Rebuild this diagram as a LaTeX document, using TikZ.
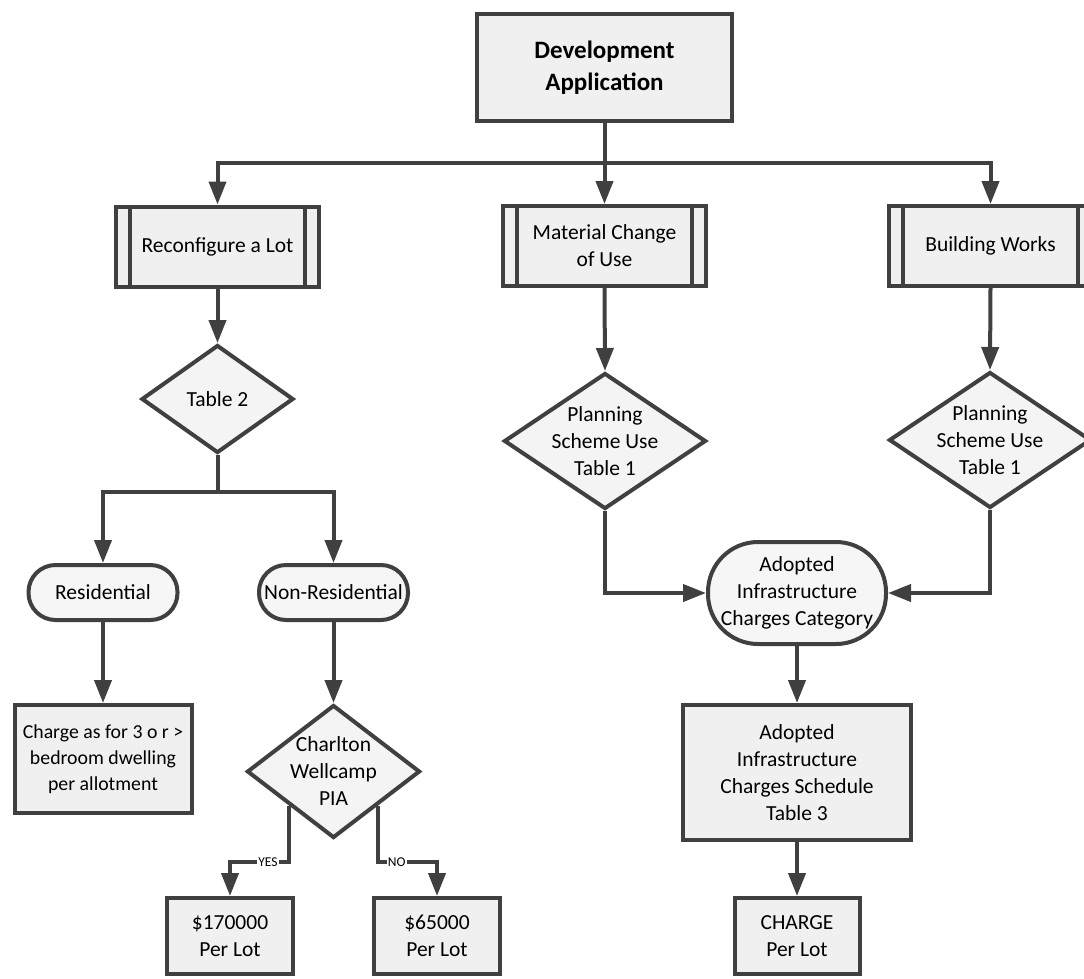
\documentclass[tikz,border=0pt]{standalone}
\usepackage{fontspec}
\setmainfont{Carlito}
\usetikzlibrary{arrows.meta,shapes.geometric}

\definecolor{linecol}{HTML}{404040}
\definecolor{boxfill}{HTML}{F0F0F0}
\newcommand{\bodysize}{\fontsize{21.5}{27}\selectfont}
\newcommand{\smallbodysize}{\fontsize{19.8}{26}\selectfont}
\newcommand{\titlesize}{\fontsize{25}{32}\selectfont}

\tikzset{
    procbox/.style={draw=linecol, line width=4pt, fill=boxfill, align=center,
        inner sep=0pt, font=\bodysize},
    predef/.style={procbox, path picture={
        \draw[line width=4pt, draw=linecol] ([xshift=14pt]path picture bounding box.north west)
            -- ([xshift=14pt]path picture bounding box.south west);
        \draw[line width=4pt, draw=linecol] ([xshift=-14pt]path picture bounding box.north east)
            -- ([xshift=-14pt]path picture bounding box.south east);}},
    terminal/.style={procbox, fill=boxfill!60!white},
    decision/.style={diamond, draw=linecol, line width=4pt, fill=boxfill!70!white,
        inner sep=0pt, label={[font=\bodysize, align=center]center:#1}},
    link/.style={draw=linecol, line width=4pt},
    flow/.style={link, -{Triangle[length=23pt, width=17pt]}},
    yesno/.style={fill=white, inner sep=1pt, font=\fontsize{13.5}{15}\selectfont}
}

\begin{document}
\begin{tikzpicture}[x=1pt, y=-1pt]
    \useasboundingbox (0,0) rectangle (1084,978);

    % Development application and the three kinds of work
    \node[procbox, font=\titlesize\bfseries, minimum width=255, minimum height=107]
        (dev) at (604.5,67.5) {Development\\Application};
    \node[predef, minimum width=203, minimum height=80] (rc) at (217.5,246.5) {Reconfigure a Lot};
    \node[predef, minimum width=203, minimum height=80] (mc) at (604.5,246) {Material Change\\of Use};
    \node[predef, minimum width=203, minimum height=80] (bw) at (990.5,246) {Building Works};
    \coordinate (split) at (604.5,163);
    \draw[link] (dev.south) -- (split);
    \draw[flow] (split) -| (rc.north);
    \draw[flow] (split) -- (mc.north);
    \draw[flow] (split) -| (bw.north);

    % Reconfigure a lot
    \node[decision={Table 2}, minimum width=152, minimum height=108] (t2) at (217.5,399) {};
    \draw[flow] (rc.south) -- (t2.north);
    \node[terminal, rounded corners=27pt, minimum width=149, minimum height=55] (res) at (103,592.5) {Residential};
    \node[terminal, rounded corners=27pt, minimum width=149, minimum height=55] (nres) at (333.5,592.5) {Non-Residential};
    \coordinate (t2split) at (217.5,492);
    \draw[link] (t2.south) -- (t2split);
    \draw[flow] (t2split) -| (res.north);
    \draw[flow] (t2split) -| (nres.north);
    \node[procbox, font=\smallbodysize, minimum width=177, minimum height=108] (chg) at (103,759)
        {Charge as for 3 o r >\\bedroom dwelling\\per allotment};
    \draw[flow] (res.south) -- (chg.north);
    \node[decision={Charlton\\Wellcamp\\PIA}, minimum width=173, minimum height=133] (cw) at (333.5,771.5) {};
    \draw[flow] (nres.south) -- (cw.north);
    \node[procbox, minimum width=126, minimum height=76] (lot170) at (230,936) {\$170000\\Per Lot};
    \node[procbox, minimum width=126, minimum height=76] (lot65) at (437,936) {\$65000\\Per Lot};
    \draw[flow] (cw.south west) -- ++(0,56) -| node[yesno, pos=0.18] {YES} (lot170.north);
    \draw[flow] (cw.south east) -- ++(0,56) -| node[yesno, pos=0.16] {NO} (lot65.north);

    % Material change of use and building works
    \node[decision={Planning\\Scheme Use\\Table 1}, minimum width=202, minimum height=136] (ps1) at (605,441) {};
    \node[decision={Planning\\Scheme Use\\Table 1}, minimum width=202, minimum height=136] (ps2) at (990,440) {};
    \draw[flow] (mc.south) -- (ps1.north);
    \draw[flow] (bw.south) -- (ps2.north);
    \node[terminal, rounded corners=50pt, minimum width=178, minimum height=102] (cat) at (797,593)
        {Adopted\\Infrastructure\\Charges Category};
    \draw[flow] (ps1.south) |- (cat.west);
    \draw[flow] (ps2.south) |- (cat.east);
    \node[procbox, minimum width=228, minimum height=135] (sched) at (797,772.5)
        {Adopted\\Infrastructure\\Charges Schedule\\Table 3};
    \draw[flow] (cat.south) -- (sched.north);
    \node[procbox, minimum width=125, minimum height=76] (charge) at (797,936) {CHARGE\\Per Lot};
    \draw[flow] (sched.south) -- (charge.north);
\end{tikzpicture}
\end{document}
